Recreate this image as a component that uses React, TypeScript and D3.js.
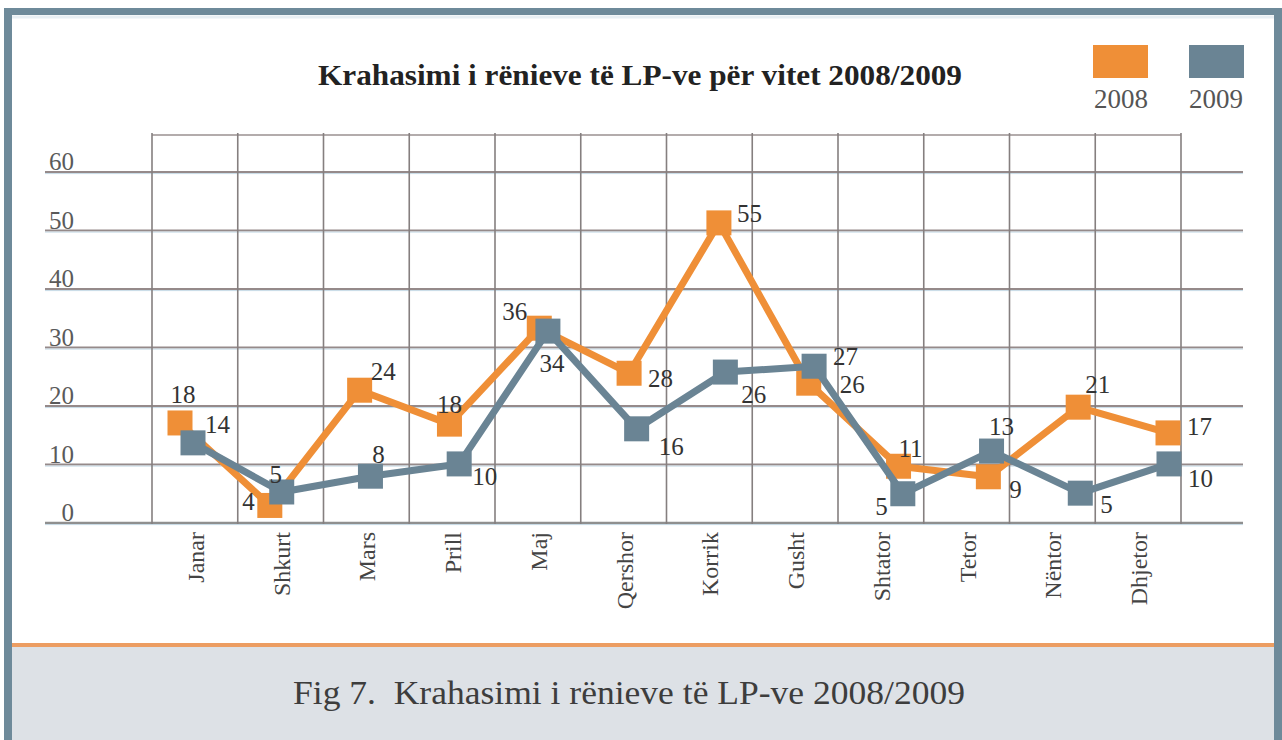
import React from "react";
import * as d3 from "d3";

const months = ["Janar", "Shkurt", "Mars", "Prill", "Maj", "Qershor", "Korrik", "Gusht", "Shtator", "Tetor", "Nëntor", "Dhjetor"];
// plotted heights
const values2008 = [17.1, 3, 22.7, 16.9, 33.3, 25.6, 51.3, 23.9, 9.7, 7.9, 19.8, 15.4];
const values2009 = [13.7, 5.3, 8.0, 10.1, 32.8, 16.1, 25.8, 26.8, 5.0, 12.3, 5.1, 10.1];
// printed data labels
const labels2008 = ["18", "4", "24", "18", "36", "28", "55", "26", "11", "9", "21", "17"];
const labels2009 = ["14", "5", "8", "10", "34", "16", "26", "27", "5", "13", "5", "10"];
const yTicks = [0, 10, 20, 30, 40, 50, 60];
const seriesNames = ["2008", "2009"];
const title = "Krahasimi i rënieve të LP-ve për vitet 2008/2009";
const caption = "Fig 7.  Krahasimi i rënieve të LP-ve 2008/2009";

// label placement (dx, dy from marker centre, anchor)
const labelPos2008: [number, number, string][] = [
  [3, -20, "middle"], [-15, 5, "end"], [11, -10, "start"], [0, -11, "middle"],
  [-12, -8, "end"], [19, 14, "start"], [18, -1, "start"], [31, 10, "start"],
  [0, -9, "start"], [21, 21, "start"], [7, -14, "start"], [19, 2, "start"],
];
const labelPos2009: [number, number, string][] = [
  [12, -10, "start"], [-6, -9, "middle"], [8, -13, "middle"], [13, 21, "start"],
  [4, 41, "middle"], [22, 26, "start"], [16, 31, "start"], [19, -1, "start"],
  [-15, 21, "end"], [10, -16, "middle"], [20, 20, "start"], [19, 23, "start"],
];

const ORANGE = "#ef8f37";
const GRAY = "#6a8494";
const FONT = "'Liberation Serif', 'Times New Roman', serif";
const tf = { fontFamily: FONT };

export default function App() {
  const W = 1282, H = 740;
  const xBand = d3.scaleBand<string>().domain(months).range([152, 1181]);
  const y = d3.scaleLinear().domain([0, 60]).range([523, 172]);
  const x2008 = d3.scalePoint<string>().domain(months).range([180, 1168]);
  const x2009 = d3.scalePoint<string>().domain(months).range([193, 1169]);

  const line2008 = d3.line<number>().x((_, i) => x2008(months[i])!).y((d) => y(d));
  const line2009 = d3.line<number>().x((_, i) => x2009(months[i])!).y((d) => y(d));

  const bandEdges = months.map((m) => xBand(m)!).concat([xBand.range()[1]]);
  const ms = 25;

  const series = [
    { name: seriesNames[0], vals: values2008, labels: labels2008, pos: labelPos2008, x: x2008, line: line2008, color: ORANGE },
    { name: seriesNames[1], vals: values2009, labels: labels2009, pos: labelPos2009, x: x2009, line: line2009, color: GRAY },
  ];

  return (
    <div style={{ position: "fixed", left: 0, top: 0 }}>
      <svg width={W} height={H} style={{ display: "block", background: "#fff" }}>
        {/* caption area */}
        <rect x={12} y={647} width={1262} height={93} fill="#dde1e6" />
        <line x1={12} x2={1274} y1={645} y2={645} stroke="#ec9d62" strokeWidth={4} />
        {/* frame */}
        <rect x={4} y={8} width={1278} height={7} fill="#6e8a9a" />
        <rect x={4} y={8} width={8} height={732} fill="#6e8a9a" />
        <rect x={1274} y={8} width={8} height={732} fill="#6e8a9a" />
        <line x1={12} x2={1274} y1={17} y2={17} stroke="#e8eff4" strokeWidth={3} />

        {/* title */}
        <text x={318} y={85} style={tf} fontSize={30} fontWeight="bold" fill="#222" textLength={644} lengthAdjust="spacingAndGlyphs">{title}</text>

        {/* legend */}
        <rect x={1093} y={45} width={55} height={33} fill={ORANGE} />
        <rect x={1189} y={45} width={55} height={33} fill={GRAY} />
        <text x={1121} y={108} style={tf} fontSize={27} fill="#555" textAnchor="middle">{seriesNames[0]}</text>
        <text x={1216} y={108} style={tf} fontSize={27} fill="#555" textAnchor="middle">{seriesNames[1]}</text>

        {/* grid */}
        <line x1={152} x2={1181} y1={135} y2={135} stroke="#9a9090" strokeWidth={1.6} />
        {yTicks.map((t) => (
          <g key={t}>
            <line x1={45} x2={1243} y1={y(t)} y2={y(t)} stroke={t === 0 ? "#8f8f8f" : "#958a8a"} strokeWidth={t === 0 ? 2.5 : 1.8} />
            <line x1={45} x2={1243} y1={y(t) + 1.6} y2={y(t) + 1.6} stroke="#c6dae6" strokeWidth={1} />
            <text x={74} y={y(t) - 2} style={tf} fontSize={25} fill="#5a5a5a" textAnchor="end">{t}</text>
          </g>
        ))}
        {bandEdges.map((bx, i) => (
          <line key={i} x1={bx} x2={bx} y1={133} y2={524} stroke="#857f7f" strokeWidth={1.6} />
        ))}

        {/* x labels */}
        {months.map((m) => (
          <text key={m} style={tf} transform={`translate(${xBand(m)! + xBand.bandwidth() / 2 + 1},532) rotate(-90)`} fontSize={24} fill="#444" textAnchor="end" dy="0.33em">{m}</text>
        ))}

        {/* series */}
        {series.map((s) => (
          <g key={s.name}>
            <path d={s.line(s.vals)!} fill="none" stroke={s.color} strokeWidth={7} strokeLinejoin="round" />
            {s.vals.map((v, i) => (
              <rect key={i} x={s.x(months[i])! - ms / 2} y={y(v) - ms / 2} width={ms} height={ms} fill={s.color} />
            ))}
          </g>
        ))}
        {series.map((s) => (
          <g key={s.name + "l"}>
            {s.vals.map((v, i) => (
              <text key={i} style={tf} x={s.x(months[i])! + s.pos[i][0]} y={y(v) + s.pos[i][1]} fontSize={25} fill="#333" textAnchor={s.pos[i][2] as any}>{s.labels[i]}</text>
            ))}
          </g>
        ))}

        {/* caption */}
        <text x={293} y={704} fontSize={34} fill="#3d3d3d" style={{ whiteSpace: "pre", fontFamily: FONT }} textLength={672} lengthAdjust="spacingAndGlyphs">{caption}</text>
      </svg>
    </div>
  );
}
